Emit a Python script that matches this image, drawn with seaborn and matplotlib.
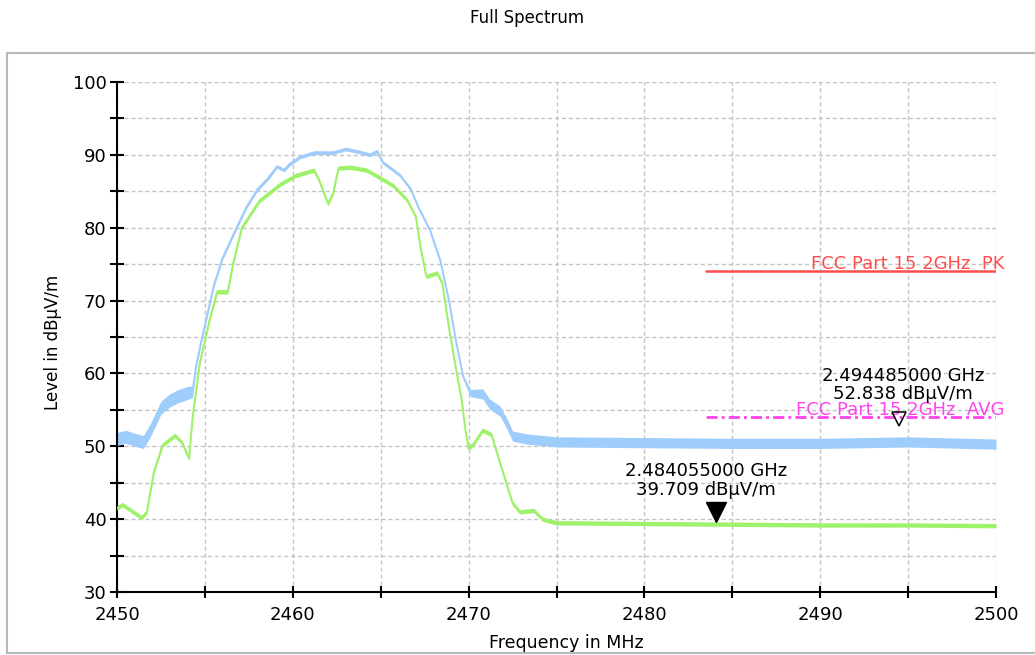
import numpy as np
import pandas as pd
import matplotlib
matplotlib.use("Agg")
import matplotlib.pyplot as plt
import seaborn as sns
from matplotlib.patches import Rectangle
from matplotlib.ticker import MultipleLocator
from matplotlib.transforms import offset_copy

# peak trace (light blue)
peak_freq = [2450.0, 2450.5, 2451.0, 2451.5, 2451.9, 2452.5, 2453.0, 2453.5, 2454.0, 2454.3,
             2454.5, 2454.8, 2455.1, 2455.5, 2456.0, 2456.8, 2457.4, 2458.0, 2458.6, 2459.1,
             2459.5, 2459.8, 2460.4, 2461.2, 2462.3, 2463.0, 2463.8, 2464.4, 2464.8, 2465.1,
             2466.1, 2466.7, 2467.2, 2467.8, 2468.4, 2468.9, 2469.3, 2469.7, 2470.1, 2470.8,
             2471.2, 2471.8, 2472.2, 2472.5, 2473.3, 2475.0, 2480.0, 2485.0, 2490.0, 2495.0,
             2500.0]
peak_level = [51.0, 51.3, 50.9, 50.6, 52.2, 55.3, 56.3, 56.9, 57.3, 57.5,
              61.0, 64.5, 67.7, 72.0, 75.8, 80.0, 83.0, 85.3, 86.8, 88.4,
              87.9, 88.7, 89.7, 90.3, 90.3, 90.8, 90.4, 90.0, 90.5, 89.0,
              87.2, 85.3, 82.5, 79.7, 75.4, 69.8, 64.2, 59.5, 57.3, 57.2,
              55.8, 54.8, 53.0, 51.4, 51.0, 50.6, 50.5, 50.4, 50.4, 50.6,
              50.3]
# half width of the noise band around the peak trace
peak_spread = [0.9, 0.9, 0.9, 0.9, 0.9, 0.9, 0.9, 0.9, 0.9, 0.8,
               0.25, 0.25, 0.25, 0.25, 0.25, 0.25, 0.25, 0.25, 0.25, 0.25,
               0.25, 0.25, 0.25, 0.25, 0.25, 0.25, 0.25, 0.25, 0.25, 0.25,
               0.25, 0.25, 0.25, 0.25, 0.25, 0.25, 0.25, 0.25, 0.5, 0.7,
               0.7, 0.7, 0.7, 0.7, 0.7, 0.7, 0.7, 0.7, 0.7, 0.7,
               0.7]

# average trace (green)
avg_freq = [2450.0, 2450.3, 2450.8, 2451.4, 2451.7, 2452.1, 2452.6, 2453.3, 2453.7, 2454.1,
            2454.3, 2454.7, 2455.3, 2455.7, 2456.3, 2456.6, 2457.1, 2458.1, 2459.3, 2460.2,
            2461.2, 2461.5, 2462.0, 2462.3, 2462.6, 2463.3, 2464.2, 2465.0, 2465.7, 2466.5,
            2467.0, 2467.3, 2467.6, 2468.2, 2468.5, 2468.9, 2469.3, 2469.6, 2469.8, 2470.0,
            2470.3, 2470.8, 2471.3, 2471.7, 2472.1, 2472.5, 2472.9, 2473.7, 2474.2, 2475.0,
            2480.0, 2485.0, 2490.0, 2495.0, 2500.0]
avg_level = [41.5, 42.0, 41.2, 40.2, 41.0, 46.5, 50.2, 51.5, 50.5, 48.3,
             54.0, 61.3, 67.7, 71.2, 71.2, 75.0, 80.0, 83.7, 86.0, 87.2,
             87.9, 86.5, 83.3, 84.8, 88.2, 88.3, 87.9, 86.8, 85.8, 83.8,
             81.5, 76.8, 73.3, 73.8, 72.4, 66.0, 60.4, 56.5, 52.5, 49.7,
             50.4, 52.2, 51.6, 48.4, 45.3, 42.2, 41.0, 41.2, 40.0, 39.5,
             39.4, 39.3, 39.2, 39.2, 39.1]
avg_spread = 0.3

# limit lines
limit_freq = [2483.5, 2500.0]
pk_limit = 74.0
avg_limit = 54.0
pk_label = "FCC Part 15 2GHz  PK"
avg_label = "FCC Part 15 2GHz  AVG"

# markers
marker_freq = [2484.055, 2494.485]
marker_level = [39.709, 52.838]

PEAK_COLOR = "#9fcdfb"
AVG_COLOR = "#9df26a"
PK_COLOR = "#ff4d4d"
AVG_LIM_COLOR = "#ff44ee"

sns.set_theme(style="white")
plt.rcParams["font.family"] = ["DejaVu Sans"]
plt.rcParams["text.color"] = "black"
plt.rcParams["axes.labelcolor"] = "black"
plt.rcParams["xtick.color"] = "black"
plt.rcParams["ytick.color"] = "black"

fig = plt.figure(figsize=(10.35, 6.55), dpi=100, facecolor="white")
fig.patches.append(Rectangle((7 / 1035, 2 / 655), 1.2, 600 / 655, transform=fig.transFigure,
                             facecolor="white", edgecolor="#b8b8b8", lw=1.5, zorder=-10))
ax = fig.add_axes([117 / 1035, 63 / 655, 879 / 1035, 510 / 655])
ax.set_facecolor("white")

peak_df = pd.DataFrame({"freq": peak_freq, "level": peak_level, "spread": peak_spread})
avg_df = pd.DataFrame({"freq": avg_freq, "level": avg_level})

ax.fill_between(peak_df["freq"], peak_df["level"] - peak_df["spread"],
                peak_df["level"] + peak_df["spread"], color=PEAK_COLOR, lw=0, zorder=2)
sns.lineplot(data=peak_df, x="freq", y="level", color=PEAK_COLOR, lw=1.4, ax=ax, zorder=2)
ax.fill_between(avg_df["freq"], avg_df["level"] - avg_spread, avg_df["level"] + avg_spread,
                color=AVG_COLOR, lw=0, zorder=3)
sns.lineplot(data=avg_df, x="freq", y="level", color=AVG_COLOR, lw=1.4, ax=ax, zorder=3)

# limits
ax.plot(limit_freq, [pk_limit, pk_limit], color=PK_COLOR, lw=1.8, zorder=4)
ax.plot(limit_freq, [avg_limit, avg_limit], color=AVG_LIM_COLOR, lw=2,
        linestyle=(0, (4, 1.5, 1, 1.5)), zorder=4)
ax.text(2500.5, pk_limit + 0.3, pk_label, color=PK_COLOR, fontsize=13,
        ha="right", va="baseline", clip_on=False, zorder=5)
ax.text(2500.5, avg_limit + 0.3, avg_label, color=AVG_LIM_COLOR, fontsize=13,
        ha="right", va="baseline", clip_on=False, zorder=5)

# markers, tip of the triangle sits on the trace value
filled = offset_copy(ax.transData, fig=fig, x=0, y=7, units="points")
hollow = offset_copy(ax.transData, fig=fig, x=0, y=5, units="points")
ax.plot(marker_freq[0], marker_level[0], marker="v", ms=14, color="black",
        transform=filled, zorder=6, clip_on=False)
ax.plot(marker_freq[1], marker_level[1], marker="v", ms=10, mfc="none", mec="black",
        mew=1.1, transform=hollow, zorder=6, clip_on=False)
for f, lv, dx in zip(marker_freq, marker_level, [-7, 3]):
    ax.annotate(f"{f / 1000:.9f} GHz\n{lv:.3f} dB\u00b5V/m", xy=(f, lv), xytext=(dx, 16),
                textcoords="offset points", ha="center", va="bottom", fontsize=13,
                linespacing=1.05, color="black", zorder=7)

ax.set_xlim(2450, 2500)
ax.set_ylim(30, 100)
ax.xaxis.set_major_locator(MultipleLocator(10))
ax.xaxis.set_minor_locator(MultipleLocator(5))
ax.yaxis.set_major_locator(MultipleLocator(10))
ax.yaxis.set_minor_locator(MultipleLocator(5))
ax.grid(which="both", color="#c4c4c4", linestyle=(0, (3, 2)), lw=1)
ax.set_axisbelow(True)

for side in ["top", "right"]:
    ax.spines[side].set_visible(False)
for side in ["left", "bottom"]:
    ax.spines[side].set_color("black")
    ax.spines[side].set_linewidth(1.5)

ax.tick_params(axis="y", which="both", direction="inout", length=10, width=1.5,
               color="black", labelsize=13, pad=2.5, left=True)
ax.tick_params(axis="x", which="both", direction="inout", length=8, width=1.5,
               color="black", labelsize=13, pad=6, bottom=True)

ax.set_xlabel("Frequency in MHz", fontsize=12.5)
ax.xaxis.set_label_coords((566 - 117) / 879, -0.082)
ax.set_ylabel("Level in dB\u00b5V/m", fontsize=12)
ax.yaxis.set_label_coords(-0.0626, 0.49)

fig.suptitle("Full Spectrum", x=527 / 1035, y=1 - 18 / 655, va="center", fontsize=12)

fig.savefig("out.png", dpi=100, facecolor="white")
